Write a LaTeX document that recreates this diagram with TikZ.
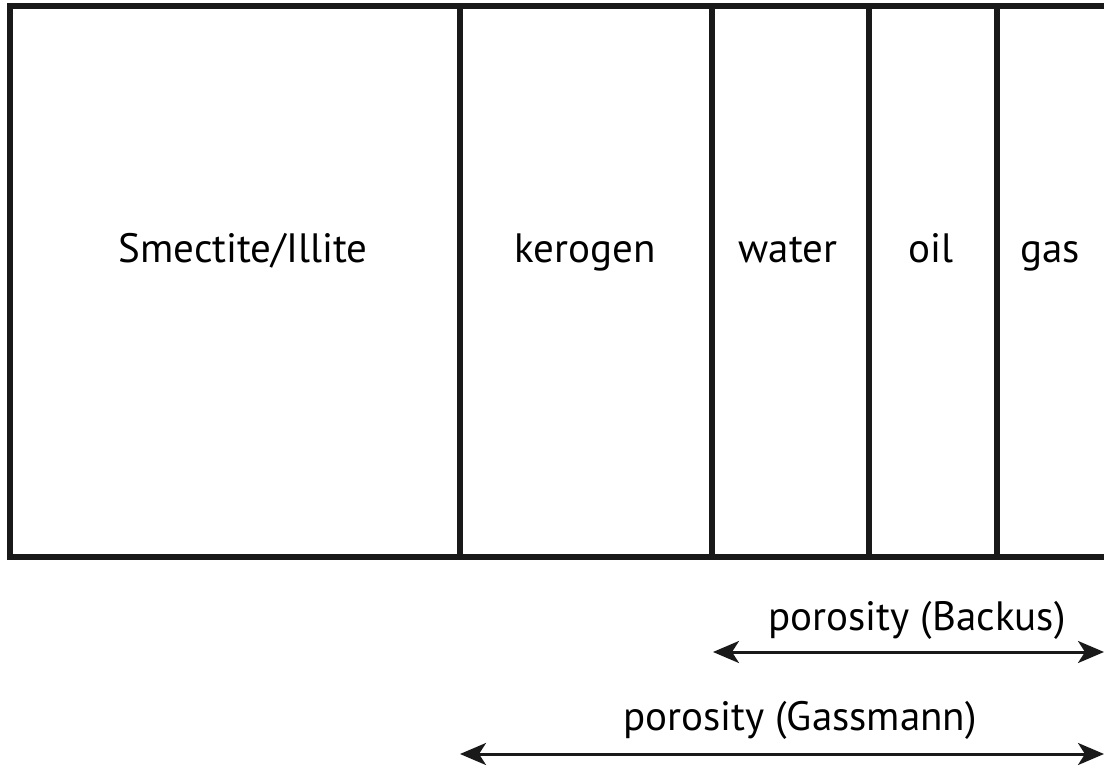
\documentclass[tikz,border=0pt]{standalone}
\usepackage{fontspec}
\setmainfont{PT Sans}
\usetikzlibrary{arrows.meta}
\begin{document}
\begin{tikzpicture}[x=1pt,y=-1pt,
  frame/.style={line width=6pt,draw=black!90,line join=miter},
  divider/.style={line width=5.5pt,draw=black!90},
  lbl/.style={font=\fontsize{41}{46}\selectfont,text=black,inner sep=0pt,anchor=base},
  dbl/.style={line width=3pt,draw=black!90,{Stealth[length=26pt,width=22pt,inset=7pt]}-{Stealth[length=26pt,width=22pt,inset=7pt]}}]
\useasboundingbox (0,0) rectangle (1104,768);
% frame
\coordinate (tr) at (1108,6);
\coordinate (tl) at (10,6);
\coordinate (bl) at (10,557);
\coordinate (br) at (1108,557);
\draw[frame] (tr) -- (tl) -- (bl) -- (br);
% dividers
\foreach \n/\x in {d1/460,d2/712,d3/869,d4/997}{
  \coordinate (\n t) at (\x,6);
  \coordinate (\n b) at (\x,557);
  \draw[divider] (\n t) -- (\n b);
}
% labels
\node[lbl] (smect) at (243,262) {Smectite/Illite};
\node[lbl] (kero) at (585,262) {kerogen};
\node[lbl] (water) at (788,262) {water};
\node[lbl] (oil) at (931,262) {oil};
\node[lbl] (gas) at (1050,262) {gas};
\node[lbl] (backus) at (917,630) {porosity (Backus)};
\node[lbl] (gass) at (800,730) {porosity (Gassmann)};
% arrows
\coordinate (b1) at (713,652);
\coordinate (b2) at (1104,652);
\coordinate (g1) at (460,754);
\coordinate (g2) at (1104,754);
\draw[dbl] (b1) -- (b2);
\draw[dbl] (g1) -- (g2);
\end{tikzpicture}
\end{document}
